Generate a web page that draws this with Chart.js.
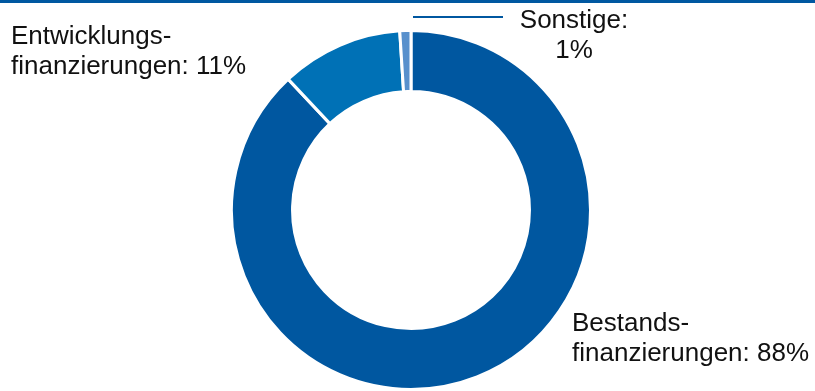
<!DOCTYPE html>
<html>
<head>
<meta charset="utf-8">
<script src="https://cdn.jsdelivr.net/npm/chart.js@4"></script>
<style>
  html, body { margin: 0; padding: 0; background: #fff; }
  #wrap { position: relative; width: 815px; height: 391px; }
  #topbar { position: absolute; left: 0; top: 0; width: 815px; height: 3px; background: #0058a1; }
</style>
</head>
<body>
<div id="wrap">
  <div id="topbar"></div>
  <canvas id="donutChart" width="815" height="391"></canvas>
</div>
<script>
// Daten (Anteile in %)
const categories = ['Bestandsfinanzierungen', 'Entwicklungsfinanzierungen', 'Sonstige'];
const shares = [88, 11, 1];
const sliceColors = ['#0057a0', '#0071b6', '#5890cc'];

// Beschriftungen (zweizeilig, wie im Original)
const labelLines = [
    ['Bestands-', 'finanzierungen: 88%'],
    ['Entwicklungs-', 'finanzierungen: 11%'],
    ['Sonstige:', '1%']
];

const FONT = '26px "Liberation Sans", Arial, sans-serif';
const LINE_H = 30;

// Plugin fuer die Beschriftungen und die Fuehrungslinie bei "Sonstige"
const labelPlugin = {
    id: 'sliceLabels',
    afterDraw(chart) {
        const ctx = chart.ctx;
        ctx.save();
        ctx.font = FONT;
        ctx.fillStyle = '#111';
        ctx.textBaseline = 'alphabetic';

        // Bestandsfinanzierungen (unten rechts)
        ctx.textAlign = 'left';
        labelLines[0].forEach((t, i) => ctx.fillText(t, 572, 331 + i * LINE_H));

        // Entwicklungsfinanzierungen (oben links)
        labelLines[1].forEach((t, i) => ctx.fillText(t, 11, 44 + i * LINE_H));

        // Sonstige (oben, zentriert) mit Linie
        ctx.textAlign = 'center';
        labelLines[2].forEach((t, i) => ctx.fillText(t, 574, 28 + i * LINE_H));

        ctx.strokeStyle = '#0057a0';
        ctx.lineWidth = 2;
        ctx.beginPath();
        ctx.moveTo(413, 17);
        ctx.lineTo(503, 17);
        ctx.stroke();
        ctx.restore();
    }
};

const ctx = document.getElementById('donutChart').getContext('2d');
new Chart(ctx, {
    type: 'doughnut',
    data: {
        labels: categories,
        datasets: [{
            data: shares,
            backgroundColor: sliceColors,
            borderColor: '#ffffff',
            borderWidth: 3,
            hoverOffset: 0
        }]
    },
    options: {
        responsive: false,
        animation: false,
        cutout: '66%',
        layout: {
            padding: { left: 230, right: 223, top: 29, bottom: 0 }
        },
        plugins: {
            legend: { display: false },
            tooltip: { enabled: false }
        }
    },
    plugins: [labelPlugin]
});
</script>
</body>
</html>
